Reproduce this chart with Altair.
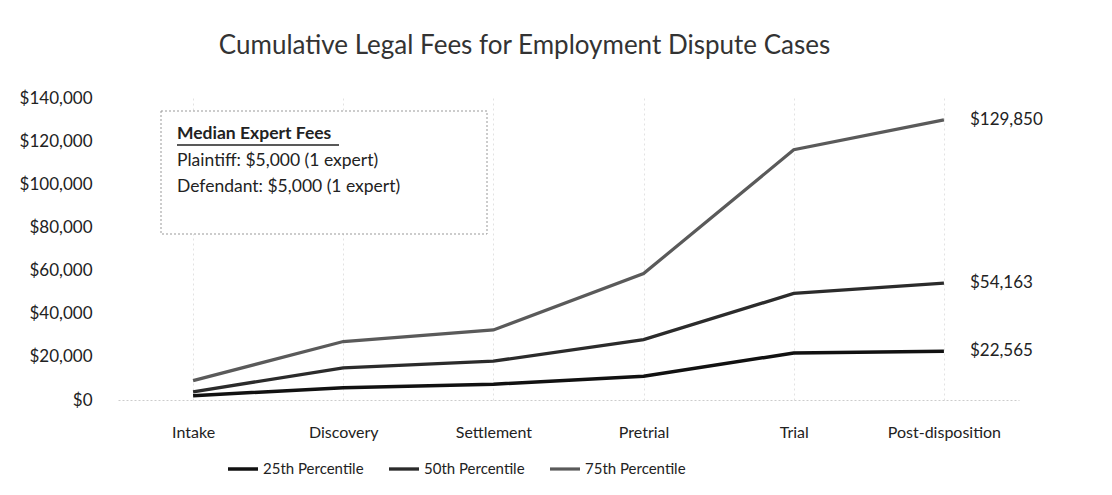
import altair as alt
import pandas as pd

stages = ["Intake", "Discovery", "Settlement", "Pretrial", "Trial", "Post-disposition"]
series = ["25th Percentile", "50th Percentile", "75th Percentile"]
p25 = [2000, 5700, 7300, 11000, 21800, 22565]
p50 = [3800, 14900, 18000, 28000, 49400, 54163]
p75 = [9000, 27100, 32500, 58600, 116000, 129850]
end_labels = ["$22,565", "$54,163", "$129,850"]
y_ticks = [0, 20000, 40000, 60000, 80000, 100000, 120000, 140000]
box_lines = ["Plaintiff: $5,000 (1 expert)", "Defendant: $5,000 (1 expert)"]
box_title = "Median Expert Fees"
colors = ["#111111", "#2b2b2b", "#5a5a5a"]
widths = [3.5, 3.2, 2.6]

rows = []
for name, vals in zip(series, [p25, p50, p75]):
    for s, v in zip(stages, vals):
        rows.append({"stage": s, "series": name, "value": v})
df = pd.DataFrame(rows)

ends = pd.DataFrame({
    "stage": [stages[-1]] * 3,
    "series": series,
    "value": [p25[-1], p50[-1], p75[-1]],
    "label": end_labels,
})

FONT = "Lato"
W, H = 901, 302

x_enc = alt.X("stage:N", sort=stages, title=None,
              scale=alt.Scale(type="point", padding=0.5),
              axis=alt.Axis(labelAngle=0, labelFontSize=16, labelColor="#222",
                            labelFont=FONT, labelPadding=24, ticks=False,
                            domain=True, domainColor="#cccccc", domainDash=[2, 2],
                            grid=True, gridColor="#e2e2e2", gridDash=[2, 3]))
y_enc = alt.Y("value:Q", title=None,
              scale=alt.Scale(domain=[0, 140000], nice=False),
              axis=alt.Axis(values=y_ticks, format="$,.0f", labelFontSize=17,
                            labelColor="#222", labelFont=FONT, labelPadding=26,
                            ticks=False, domain=False, grid=False))

lines = alt.Chart(df).mark_line().encode(
    x=x_enc,
    y=y_enc,
    color=alt.Color("series:N", sort=series,
                    scale=alt.Scale(domain=series, range=colors),
                    legend=alt.Legend(title=None, orient="none", direction="horizontal",
                                      legendX=108, legendY=354, symbolType="stroke",
                                      symbolSize=900, symbolStrokeWidth=3,
                                      labelFontSize=15, labelFont=FONT, labelColor="#222",
                                      columnPadding=18, labelOffset=3)),
    strokeWidth=alt.StrokeWidth("series:N", sort=series,
                                scale=alt.Scale(domain=series, range=widths),
                                legend=None),
)

end_text = alt.Chart(ends).mark_text(align="left", baseline="middle", dx=26,
                                     fontSize=17, font=FONT, color="#222").encode(
    x=alt.X("stage:N", sort=stages),
    y="value:Q",
    text="label:N",
)

box = alt.Chart(alt.Data(values=[{"a": 1}])).mark_rect(
    fill="white", stroke="#999999", strokeDash=[2, 2], strokeWidth=1
).encode(x=alt.value(43), x2=alt.value(369), y=alt.value(13), y2=alt.value(136))

box_head = alt.Chart(alt.Data(values=[{"t": box_title}])).mark_text(
    align="left", baseline="middle", fontSize=17.5, fontWeight="bold", font=FONT, color="#222"
).encode(x=alt.value(59), y=alt.value(36), text="t:N")

underline = alt.Chart(alt.Data(values=[{"a": 1}])).mark_rule(
    color="#222", strokeWidth=1.4
).encode(x=alt.value(59), x2=alt.value(221), y=alt.value(47))

box_body1 = alt.Chart(alt.Data(values=[{"t": box_lines[0]}])).mark_text(
    align="left", baseline="middle", fontSize=17.5, font=FONT, color="#222"
).encode(x=alt.value(59), y=alt.value(63), text="t:N")

box_body2 = alt.Chart(alt.Data(values=[{"t": box_lines[1]}])).mark_text(
    align="left", baseline="middle", fontSize=17.5, font=FONT, color="#222"
).encode(x=alt.value(59), y=alt.value(89), text="t:N")

chart = alt.layer(box, box_head, underline, box_body1, box_body2, lines, end_text).properties(
    width=W, height=H,
    background="white",
    title=alt.TitleParams("Cumulative Legal Fees for Employment Dispute Cases",
                          fontSize=26, font=FONT, fontWeight="normal", color="#333",
                          anchor="middle", dx=-44, offset=30),
    autosize=alt.AutoSizeParams(type="none"),
    padding={"left": 110, "top": 90, "right": 85, "bottom": 87},
).configure_view(strokeWidth=0, stroke="transparent")

chart.save("out.html", embed_options={"renderer": "svg", "actions": False})
